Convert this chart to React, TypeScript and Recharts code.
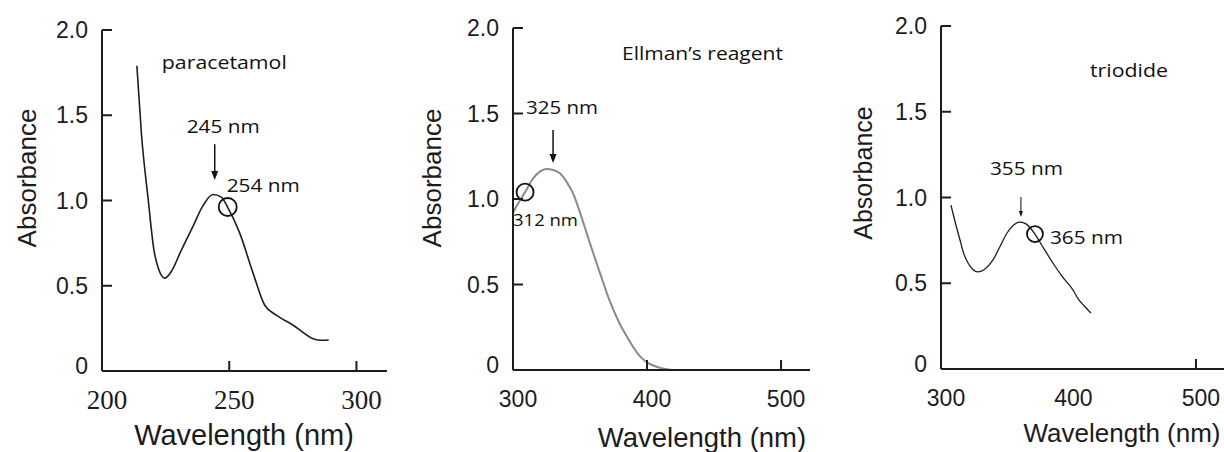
import React from 'react';
import { LineChart, Line, XAxis, YAxis, ReferenceDot, ReferenceLine } from 'recharts';

// ---------- data ----------
const paracetamolWavelength = [213.7, 215.5, 218.2, 220.4, 222.2, 224.7, 227.5, 230.6, 235.8, 239.7, 243.6, 246.9, 249.4, 254.1, 259.3, 263.9, 268.5, 275.0, 283.5, 286.0, 289.1];
const paracetamolAbsorbance = [1.79, 1.39, 1.0, 0.71, 0.6, 0.545, 0.59, 0.69, 0.85, 0.97, 1.035, 1.02, 0.96, 0.81, 0.577, 0.387, 0.328, 0.27, 0.186, 0.18, 0.182];

const ellmanWavelength = [300, 305, 309, 315, 320, 325, 330, 335, 340, 345, 350, 355, 360, 365, 370, 375, 380, 385, 390, 395, 400, 405, 410, 418.5];
const ellmanAbsorbance = [0.92, 0.99, 1.04, 1.12, 1.16, 1.175, 1.17, 1.15, 1.1, 1.03, 0.92, 0.8, 0.68, 0.565, 0.45, 0.35, 0.265, 0.195, 0.13, 0.078, 0.045, 0.025, 0.012, 0];

const triodideWavelength = [307.8, 311, 314.9, 318, 321.2, 325, 329, 334, 340.8, 346, 351.8, 357, 362, 367, 373.7, 380, 387.8, 395, 403.5, 407.5, 412, 417.6];
const triodideAbsorbance = [0.956, 0.86, 0.752, 0.67, 0.618, 0.58, 0.566, 0.58, 0.636, 0.71, 0.793, 0.84, 0.857, 0.845, 0.787, 0.71, 0.618, 0.54, 0.461, 0.41, 0.37, 0.327];

const absorbanceTicks = [0, 0.5, 1.0, 1.5, 2.0];
const paracetamolXTicks = [200, 250, 300];
const visibleXTicks = [300, 400, 500];

// annotations (data coordinates)
const paracetamolLabels = [
  { w: 223.5, a: 1.81, text: 'paracetamol', anchor: 'start', len: 125, size: 18 },
  { w: 247.6, a: 1.437, text: '245 nm', anchor: 'middle', len: 73, size: 18 },
  { w: 249.0, a: 1.09, text: '254 nm', anchor: 'start', len: 73, size: 18 },
];
const paracetamolArrow = { w: 244.3, from: 1.33, to: 1.12 };
const paracetamolCircle = { w: 249.4, a: 0.962 };

const ellmanLabels = [
  { w: 381.3, a: 1.854, text: 'Ellman\u2019s reagent', anchor: 'start', len: 161, size: 18 },
  { w: 309.7, a: 1.538, text: '325 nm', anchor: 'start', len: 72, size: 18 },
  { w: 300.0, a: 0.877, text: '312 nm', anchor: 'start', len: 65, size: 16 },
];
const ellmanArrow = { w: 329.9, from: 1.404, to: 1.21 };
const ellmanCircle = { w: 309.0, a: 1.04 };

const triodideLabels = [
  { w: 416.9, a: 1.743, text: 'triodide', anchor: 'start', len: 78, size: 18 },
  { w: 367.0, a: 1.172, text: '355 nm', anchor: 'middle', len: 73, size: 18 },
  { w: 385.5, a: 0.77, text: '365 nm', anchor: 'start', len: 73, size: 18 },
];
const triodideArrow = { w: 362.7, from: 1.003, to: 0.886 };
const triodideCircle = { w: 373.7, a: 0.787 };

// ---------- helpers ----------
const zip = (w: number[], a: number[]) => w.map((v, i) => ({ w: v, a: a[i] }));

const INK = '#1c1c1c';
const TICK_MARGIN = 10;
const ANNOT_FONT = "'Open Sans', 'Noto Sans', sans-serif";
const SANS = "'Liberation Sans', Arial, sans-serif";
const SERIF = "'Liberation Serif', 'Times New Roman', serif";

const makeXTick = (lineAt: number[], font: string, size: number) => (props: any) => {
  const { x, y, payload } = props;
  const axisY = y - TICK_MARGIN;
  const v = payload.value;
  return (
    <g>
      {lineAt.includes(v) && (
        <line x1={x} x2={x} y1={axisY} y2={axisY - 10} stroke={INK} strokeWidth={2} />
      )}
      <text x={x + 5} y={axisY + 29} textAnchor="middle" dominantBaseline="central"
        fontFamily={font} fontSize={size} fill={INK}>{v}</text>
    </g>
  );
};

const makeYTick = (lineAt: number[]) => (props: any) => {
  const { x, y, payload } = props;
  const axisX = x + TICK_MARGIN;
  const v = payload.value;
  return (
    <g>
      {lineAt.includes(v) && (
        <line x1={axisX} x2={axisX + 10} y1={y} y2={y} stroke={INK} strokeWidth={2} />
      )}
      <text x={axisX - 14} y={v === 0 ? y - 5 : y} textAnchor="end" dominantBaseline="central"
        fontFamily={SANS} fontSize={23} fill={INK}>{v === 0 ? '0' : v.toFixed(1)}</text>
    </g>
  );
};

const makeArrow = (head: number, width: number, sw: number) => (p: any) => {
  const { x1, y1, x2, y2 } = p;
  const top = Math.min(y1, y2);
  const bottom = Math.max(y1, y2);
  return (
    <g>
      <line x1={x1} x2={x2} y1={top} y2={bottom - head + 1} stroke="#111" strokeWidth={sw} />
      <polygon points={`${x2 - width / 2},${bottom - head} ${x2 + width / 2},${bottom - head} ${x2},${bottom}`} fill="#111" />
    </g>
  );
};

const labelShape = (l: any) => (p: any) => (
  <text x={p.cx} y={p.cy} textAnchor={l.anchor} dominantBaseline="central"
    fontFamily={ANNOT_FONT} fontSize={l.size} fill="#111"
    textLength={l.len} lengthAdjust="spacingAndGlyphs">{l.text}</text>
);

type PanelProps = {
  left: number; width: number; margin: any; xDomain: [number, number]; xTicks: number[];
  xTickLines: number[]; xFont: string; xSize: number; data: any[]; stroke: string; strokeWidth: number;
  labels: any[]; arrow: any; arrowShape: any; circle: any; circleR: number;
  yTitle: { x: number; y: number; size: number }; xTitle: { x: number; y: number; size: number };
};

const Panel = (p: PanelProps) => (
  <div style={{ position: 'absolute', left: p.left, top: 0 }}>
    <LineChart width={p.width} height={452} data={p.data} margin={p.margin}>
      <XAxis type="number" dataKey="w" domain={p.xDomain} allowDataOverflow ticks={p.xTicks} interval={0}
        height={1} tickSize={0} tickMargin={TICK_MARGIN} tickLine={false}
        axisLine={{ stroke: INK, strokeWidth: 2 }} tick={makeXTick(p.xTickLines, p.xFont, p.xSize)} />
      <YAxis type="number" domain={[0, 2]} allowDataOverflow ticks={absorbanceTicks} interval={0}
        width={1} tickSize={0} tickMargin={TICK_MARGIN} tickLine={false}
        axisLine={{ stroke: INK, strokeWidth: 2 }} tick={makeYTick([0.5, 1.0, 1.5, 2.0])} />
      <Line type="monotone" dataKey="a" stroke={p.stroke} strokeWidth={p.strokeWidth} dot={false}
        isAnimationActive={false} />
      <ReferenceLine segment={[{ x: p.arrow.w, y: p.arrow.from }, { x: p.arrow.w, y: p.arrow.to }]}
        ifOverflow="visible" shape={p.arrowShape} />
      <ReferenceDot x={p.circle.w} y={p.circle.a} r={p.circleR} fill="none" stroke="#111" strokeWidth={1.8}
        ifOverflow="visible" />
      {p.labels.map((l, i) => (
        <ReferenceDot key={i} x={l.w} y={l.a} r={1} ifOverflow="visible" shape={labelShape(l)} />
      ))}
      <text x={p.yTitle.x} y={p.yTitle.y} transform={`rotate(-90 ${p.yTitle.x} ${p.yTitle.y})`}
        textAnchor="middle" dominantBaseline="central" fontFamily={SANS} fontSize={p.yTitle.size} fill={INK}>
        Absorbance
      </text>
      <text x={p.xTitle.x} y={p.xTitle.y} textAnchor="middle" dominantBaseline="central"
        fontFamily={SANS} fontSize={p.xTitle.size} fill={INK}>
        Wavelength (nm)
      </text>
    </LineChart>
  </div>
);

export default function App() {
  return (
    <div style={{ position: 'absolute', left: 0, top: 0, width: 1224, height: 452, background: '#fff', overflow: 'hidden' }}>
      <Panel left={0} width={400} margin={{ top: 30, right: 13, bottom: 80, left: 101 }}
        xDomain={[200, 312]} xTicks={paracetamolXTicks} xTickLines={[250, 300]} xFont={SERIF} xSize={27}
        data={zip(paracetamolWavelength, paracetamolAbsorbance)} stroke="#1e1e1e" strokeWidth={1.6}
        labels={paracetamolLabels} arrow={paracetamolArrow} arrowShape={makeArrow(9, 7, 1.5)}
        circle={paracetamolCircle} circleR={9}
        yTitle={{ x: 27, y: 178, size: 26 }} xTitle={{ x: 244, y: 435, size: 29 }} />
      <Panel left={400} width={420} margin={{ top: 28, right: 10, bottom: 81, left: 112 }}
        xDomain={[300, 521.6]} xTicks={visibleXTicks} xTickLines={[400, 500]} xFont={SANS} xSize={23}
        data={zip(ellmanWavelength, ellmanAbsorbance)} stroke="#8a8a8a" strokeWidth={2}
        labels={ellmanLabels} arrow={ellmanArrow} arrowShape={makeArrow(9, 7, 1.5)}
        circle={ellmanCircle} circleR={8.5}
        yTitle={{ x: 32, y: 178, size: 26 }} xTitle={{ x: 302, y: 437, size: 27.5 }} />
      <Panel left={820} width={404} margin={{ top: 26, right: 0, bottom: 82, left: 120 }}
        xDomain={[300, 522]} xTicks={visibleXTicks} xTickLines={[500]} xFont={SANS} xSize={23}
        data={zip(triodideWavelength, triodideAbsorbance)} stroke="#1e1e1e" strokeWidth={1.3}
        labels={triodideLabels} arrow={triodideArrow} arrowShape={makeArrow(6, 4, 1)}
        circle={triodideCircle} circleR={8}
        yTitle={{ x: 43, y: 173, size: 25 }} xTitle={{ x: 302, y: 433, size: 26 }} />
    </div>
  );
}
